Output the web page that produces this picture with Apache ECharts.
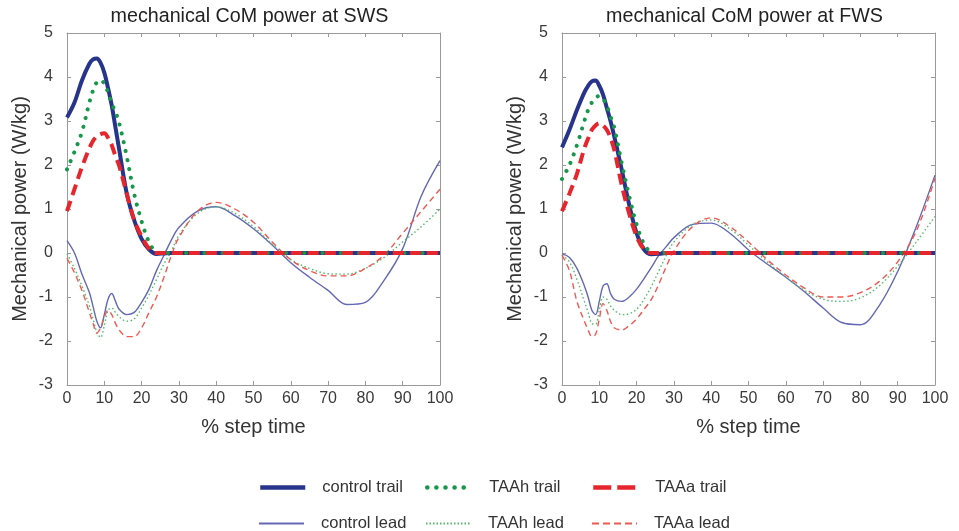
<!DOCTYPE html>
<html><head><meta charset="utf-8">
<script src="https://cdn.jsdelivr.net/npm/echarts@6/dist/echarts.min.js"></script>
<style>html,body{margin:0;padding:0;background:#fff}#c{width:959px;height:531px}</style>
</head><body><div id="c"></div>
<script>
// % step time sample points
const xs = [0,2,4,6,7,8,9,10,11,12,13,14,16,18,20,22,24,26,28,30,35,40,45,50,55,60,65,70,75,80,85,90,95,100];
const xTicks = [0,10,20,30,40,50,60,70,80,90,100];
const yTicks = [-3,-2,-1,0,1,2,3,4,5];
const seriesNames = ['control trail','TAAh trail','TAAa trail','control lead','TAAh lead','TAAa lead'];
const panelTitles = ['mechanical CoM power at SWS','mechanical CoM power at FWS'];

// SWS panel
const swsControlTrail = [3.08,3.42,3.92,4.3,4.4,4.42,4.32,4.1,3.75,3.35,2.85,2.35,1.36,0.75,0.32,0.08,-0.02,-0.01,0,0,0,0,0,0,0,0,0,0,0,0,0,0,0,0];
const swsTAAhTrail    = [1.9,2.3,2.75,3.42,3.7,3.88,3.93,3.85,3.65,3.4,3.2,2.95,2.2,1.35,0.72,0.25,0.02,0,0,0,0,0,0,0,0,0,0,0,0,0,0,0,0,0];
const swsTAAaTrail    = [0.95,1.45,1.95,2.38,2.55,2.65,2.7,2.72,2.62,2.45,2.2,1.98,1.35,0.75,0.38,0.1,0,0,0,0,0,0,0,0,0,0,0,0,0,0,0,0,0,0];
const swsControlLead  = [0.28,0.0,-0.48,-0.9,-1.22,-1.55,-1.7,-1.4,-1.05,-0.92,-1.1,-1.28,-1.4,-1.35,-1.12,-0.82,-0.4,-0.05,0.3,0.58,0.95,1.05,0.85,0.55,0.18,-0.22,-0.55,-0.85,-1.17,-1.12,-0.62,0.1,1.3,2.1];
const swsTAAhLead     = [-0.02,-0.35,-0.75,-1.2,-1.5,-1.8,-1.92,-1.65,-1.3,-1.25,-1.35,-1.45,-1.55,-1.5,-1.25,-0.95,-0.6,-0.25,0.05,0.4,0.9,1.05,0.9,0.6,0.2,-0.15,-0.35,-0.47,-0.48,-0.35,-0.1,0.25,0.6,1.0];
const swsTAAaLead     = [-0.12,-0.45,-0.85,-1.35,-1.6,-1.82,-1.7,-1.45,-1.3,-1.4,-1.6,-1.75,-1.9,-1.9,-1.7,-1.35,-1.0,-0.55,-0.05,0.35,0.95,1.15,1.0,0.7,0.25,-0.15,-0.4,-0.52,-0.52,-0.35,-0.05,0.45,0.95,1.45];

// FWS panel
const fwsControlTrail = [2.4,2.8,3.25,3.65,3.8,3.9,3.92,3.8,3.6,3.3,3.0,2.65,1.9,1.1,0.45,0.08,-0.03,-0.02,0,0,0,0,0,0,0,0,0,0,0,0,0,0,0,0];
const fwsTAAhTrail    = [1.68,2.0,2.45,3.0,3.25,3.42,3.53,3.57,3.5,3.35,3.1,2.85,2.05,1.3,0.65,0.2,0.02,0,0,0,0,0,0,0,0,0,0,0,0,0,0,0,0,0];
const fwsTAAaTrail    = [0.95,1.35,1.8,2.38,2.6,2.8,2.9,2.95,2.9,2.8,2.62,2.35,1.55,0.9,0.38,0.08,0,0,0,0,0,0,0,0,0,0,0,0,0,0,0,0,0,0];
const fwsControlLead  = [-0.02,-0.1,-0.35,-0.75,-1.0,-1.3,-1.4,-1.1,-0.75,-0.7,-0.92,-1.05,-1.1,-1.0,-0.82,-0.58,-0.32,-0.05,0.15,0.35,0.65,0.68,0.45,0.07,-0.25,-0.55,-0.88,-1.25,-1.58,-1.63,-1.2,-0.42,0.6,1.77];
const fwsTAAhLead     = [-0.05,-0.2,-0.6,-1.1,-1.35,-1.6,-1.62,-1.3,-1.0,-1.05,-1.2,-1.3,-1.4,-1.38,-1.28,-1.05,-0.75,-0.4,-0.05,0.25,0.65,0.75,0.55,0.18,-0.2,-0.55,-0.85,-1.05,-1.1,-1.02,-0.75,-0.3,0.25,0.83];
const fwsTAAaLead     = [-0.05,-0.4,-1.1,-1.55,-1.75,-1.9,-1.85,-1.5,-1.15,-1.3,-1.55,-1.7,-1.75,-1.65,-1.5,-1.28,-1.05,-0.7,-0.3,0.05,0.6,0.8,0.6,0.25,-0.15,-0.5,-0.8,-1.0,-1.0,-0.9,-0.65,-0.2,0.5,1.7];

const panels = [
  [swsControlTrail, swsTAAhTrail, swsTAAaTrail, swsControlLead, swsTAAhLead, swsTAAaLead],
  [fwsControlTrail, fwsTAAhTrail, fwsTAAaTrail, fwsControlLead, fwsTAAhLead, fwsTAAaLead]
];

const styles = [
  {color:'#27348b', width:4, type:'solid'},
  {color:'#16974a', width:4, type:[0.1,9], cap:'round'},
  {color:'#e6262c', width:4, type:[11,6]},
  {color:'#6468b4', width:1.4, type:'solid'},
  {color:'#52b96c', width:1.4, type:[1.5,2.5]},
  {color:'#ec5a52', width:1.4, type:[6,4]}
];
const legendDash = ['solid',[0.1,9],[18,6],'solid',[1.5,2],[7,4]];
const drawOrder = [3,4,5,0,1,2];

const pairs = ys => xs.map((x,i)=>[x, ys[i]]);
const font = 'Liberation Sans, Arial, sans-serif';
const gridDefs = [{left:67, top:33, width:373, height:352},{left:562, top:33, width:373, height:352}];

const xAxis = [], yAxis = [], series = [], title = [];
gridDefs.forEach((g,gi)=>{
  const axLine = {show:true, onZero:false, lineStyle:{color:'#9a9a9a', width:1}};
  const tick = {show:true, inside:true, length:4, lineStyle:{color:'#9a9a9a'}};
  xAxis.push({gridIndex:gi, type:'value', min:0, max:100, interval:10, position:'bottom',
    axisLine:axLine, axisTick:tick, splitLine:{show:false},
    axisLabel:{color:'#3a3a3a', fontSize:16, fontFamily:font, margin:6},
    name:'% step time', nameLocation:'middle', nameGap:32,
    nameTextStyle:{color:'#333', fontSize:20, fontFamily:font}});
  xAxis.push({gridIndex:gi, type:'value', min:0, max:100, interval:10, position:'top',
    axisLine:axLine, axisTick:tick, splitLine:{show:false}, axisLabel:{show:false}});
  yAxis.push({gridIndex:gi, type:'value', min:-3, max:5, interval:1, position:'left',
    axisLine:axLine, axisTick:tick, splitLine:{show:false},
    axisLabel:{color:'#3a3a3a', fontSize:16, fontFamily:font, margin:14},
    name:'Mechanical power (W/kg)', nameLocation:'middle', nameGap:37,
    nameTextStyle:{color:'#333', fontSize:20, fontFamily:font}});
  yAxis.push({gridIndex:gi, type:'value', min:-3, max:5, interval:1, position:'right',
    axisLine:axLine, axisTick:tick, splitLine:{show:false}, axisLabel:{show:false}});
  title.push({text:panelTitles[gi], left:g.left + g.width/2 - 9, top:2, textAlign:'center',
    textStyle:{fontSize:19.7, fontWeight:'normal', color:'#222', fontFamily:font}});
  drawOrder.forEach(si=>{
    const s = styles[si];
    series.push({name:seriesNames[si], type:'line', xAxisIndex:gi*2, yAxisIndex:gi*2,
      data:pairs(panels[gi][si]), smooth:0.35, symbol:'none', z: si<3 ? 3 : 2,
      lineStyle:{color:s.color, width:s.width, type:s.type, cap:s.cap||'butt'},
      itemStyle:{color:s.color}});
  });
});

const legendPos = [[258,479],[425,479],[591,479],[258,515],[425,515],[591,515]];
const legend = seriesNames.map((n,i)=>({data:[n], left:legendPos[i][0], top:legendPos[i][1],
  itemWidth:45, itemHeight:16, padding:0, selectedMode:false, itemStyle:{opacity:0},
  lineStyle:{width:styles[i].width < 2 ? 2 : 4.5, type:legendDash[i], cap:styles[i].cap||'butt', color:styles[i].color},
  textStyle:{color:'#333', fontSize:16.5, fontFamily:font, padding:[0,0,0,12]}}));

const chart = echarts.init(document.getElementById('c'));
chart.setOption({animation:false, title, grid:gridDefs, xAxis, yAxis, series, legend});
</script></body></html>
